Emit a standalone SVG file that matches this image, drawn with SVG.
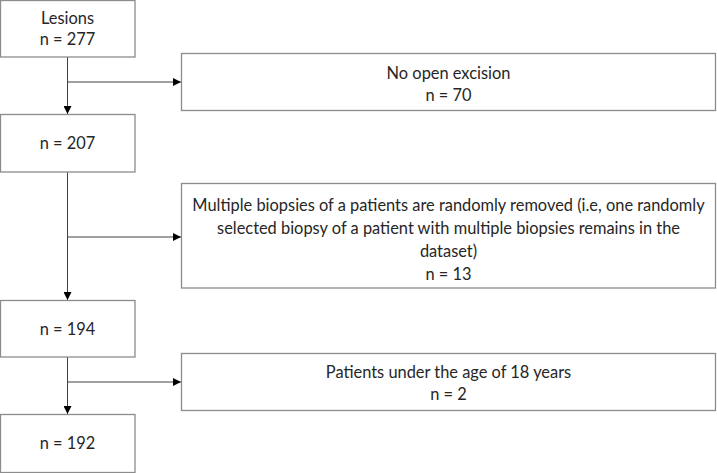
<svg xmlns="http://www.w3.org/2000/svg" width="717" height="473" viewBox="0 0 717 473">
<defs>
<style>
.box{fill:#fff;stroke:#8c8c8c;stroke-width:1.3}
.t{font-family:Lato,"Liberation Sans",sans-serif;font-size:16.4px;fill:#262626;text-anchor:middle}
.ln{stroke:#404040;stroke-width:1;fill:none}
</style>
<marker id="ah" viewBox="0 0 10 10" refX="10" refY="5" markerWidth="8" markerHeight="8" markerUnits="userSpaceOnUse" orient="auto">
<path d="M0,0 L10,5 L0,10 z" fill="#000"/>
</marker>
</defs>
<rect width="717" height="473" fill="#fff"/>
<g id="connectors">
<line class="ln" x1="67.5" y1="57" x2="67.5" y2="114" marker-end="url(#ah)"/>
<line class="ln" x1="67.5" y1="82" x2="181" y2="82" marker-end="url(#ah)"/>
<line class="ln" x1="67.5" y1="172" x2="67.5" y2="300" marker-end="url(#ah)"/>
<line class="ln" x1="67.5" y1="237" x2="181" y2="237" marker-end="url(#ah)"/>
<line class="ln" x1="67.5" y1="357" x2="67.5" y2="414" marker-end="url(#ah)"/>
<line class="ln" x1="67.5" y1="382" x2="181" y2="382" marker-end="url(#ah)"/>
</g>
<g id="n1"><rect class="box" x="0.5" y="0.5" width="134.5" height="56.5"/>
<text class="t" x="67.5" y="23.5">Lesions</text><text class="t" x="67.5" y="45">n = 277</text></g>
<g id="n2"><rect class="box" x="0.5" y="114.5" width="134.5" height="57.5"/>
<text class="t" x="67.5" y="148.5">n = 207</text></g>
<g id="n3"><rect class="box" x="0.5" y="300.5" width="134.5" height="56.5"/>
<text class="t" x="67.5" y="334.5">n = 194</text></g>
<g id="n4"><rect class="box" x="0.5" y="414.5" width="134.5" height="58"/>
<text class="t" x="67.5" y="448.5">n = 192</text></g>
<g id="e1"><rect class="box" x="181.5" y="53.5" width="534" height="57"/>
<text class="t" x="448.5" y="78.5">No open excision</text><text class="t" x="448.5" y="100.5">n = 70</text></g>
<g id="e2"><rect class="box" x="181.5" y="183.5" width="534" height="104.5"/>
<text class="t" x="448.5" y="210.5">Multiple biopsies of a patients are randomly removed (i.e, one randomly</text>
<text class="t" x="448.5" y="233.5">selected biopsy of a patient with multiple biopsies remains in the</text>
<text class="t" x="448.5" y="256.5">dataset)</text>
<text class="t" x="448.5" y="279.5">n = 13</text></g>
<g id="e3"><rect class="box" x="181.5" y="353.5" width="534" height="57"/>
<text class="t" x="448.5" y="377.5">Patients under the age of 18 years</text><text class="t" x="448.5" y="400">n = 2</text></g>
</svg>
